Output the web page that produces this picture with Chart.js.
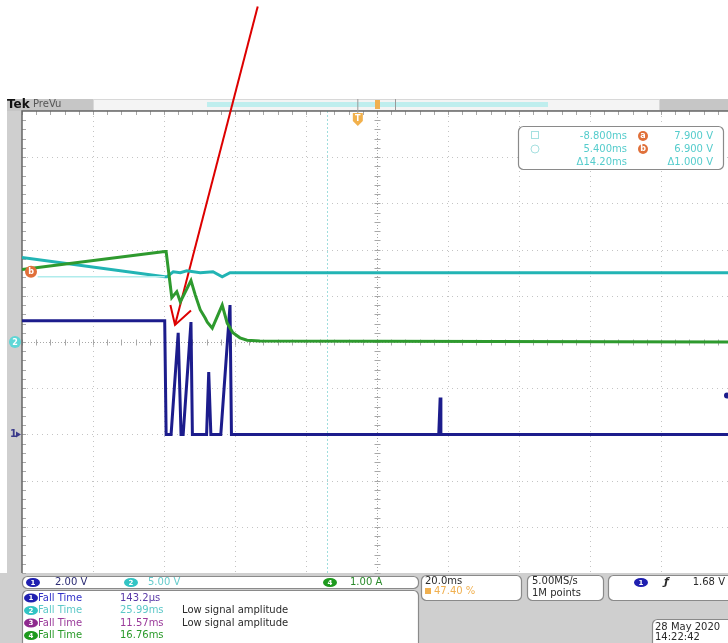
<!DOCTYPE html>
<html lang="en">
<head>
<meta charset="UTF-8">
<title>Tek scope capture</title>
<script src="https://cdn.jsdelivr.net/npm/chart.js@4.4.1/dist/chart.umd.min.js"></script>
<style>
  body { margin: 0; background: #fff; overflow: hidden; }
  canvas { display: block; }
</style>
</head>
<body>
<canvas id="scope" width="728" height="643"></canvas>
<script>
  // x in divisions from the left graticule edge, y in divisions from screen centre
  const blueX = [0, 2.01, 2.03, 2.10, 2.20, 2.24, 2.27, 2.38, 2.40, 2.60, 2.63, 2.66, 2.68, 2.76, 2.80, 2.93, 2.95, 5.87, 5.89, 5.90, 9.95];
  const blueY = [0.46, 0.46, -2.0, -2.0, 0.20, -2.0, -2.0, 0.43, -2.0, -2.0, -0.65, -2.0, -2.0, -2.0, -2.0, 0.80, -2.0, -2.0, -1.20, -2.0, -2.0];

  const cyanX = [0, 2.01, 2.04, 2.13, 2.23, 2.32, 2.51, 2.69, 2.82, 2.93, 3.21, 9.95];
  const cyanY = [1.83, 1.41, 1.41, 1.52, 1.50, 1.54, 1.50, 1.52, 1.41, 1.50, 1.50, 1.50];

  const greenX = [0, 2.01, 2.03, 2.11, 2.18, 2.23, 2.38, 2.44, 2.51, 2.58, 2.61, 2.68, 2.82, 2.89, 2.97, 3.07, 3.17, 3.35, 9.95];
  const greenY = [1.57, 1.96, 1.96, 0.96, 1.09, 0.87, 1.33, 1.02, 0.70, 0.52, 0.43, 0.30, 0.80, 0.41, 0.20, 0.09, 0.04, 0.02, 0.0];

  const refX = [0.22, 2.01];
  const refY = [1.41, 1.41];

  const arrowShaftX = [3.32, 2.155];
  const arrowShaftY = [7.26, 0.37];
  const arrowHeadX = [2.09, 2.155, 2.38];
  const arrowHeadY = [0.80, 0.37, 0.68];

  const cursorA = -8.8;       // ms from trigger
  const trigDiv = 4.73;       // trigger position in divisions
  const msPerDiv = 20;

  const chanLabels = ['2.00 V', '5.00 V', '1.00 A'];
  const measNames = ['Fall Time', 'Fall Time', 'Fall Time', 'Fall Time'];
  const measValues = ['143.2\u03bcs', '25.99ms', '11.57ms', '16.76ms'];
  const measNotes = ['', 'Low signal amplitude', 'Low signal amplitude', ''];
  const cursorRows = [['-8.800ms', '7.900 V'], ['5.400ms', '6.900 V'], ['\u039414.20ms', '\u03941.000 V']];

  const BLUE = '#1c1c8c', CYAN = '#22b4b4', GREEN = '#2e9a2e', PURPLE = '#8e2a8e', ORANGE = '#e0703a';

  function pts(xs, ys) { return xs.map((x, i) => ({x: x, y: ys[i]})); }

  function rrect(ctx, x, y, w, h, r, fill, stroke) {
    ctx.beginPath();
    ctx.roundRect(x, y, w, h, r);
    if (fill) { ctx.fillStyle = fill; ctx.fill(); }
    if (stroke) { ctx.strokeStyle = stroke; ctx.lineWidth = 1.2; ctx.stroke(); }
  }
  function pill(ctx, x, y, color, label) {
    ctx.beginPath();
    ctx.ellipse(x, y, 7, 4.5, 0, 0, Math.PI * 2);
    ctx.fillStyle = color; ctx.fill();
    if (label) {
      ctx.fillStyle = '#fff'; ctx.font = 'bold 7px "DejaVu Sans"';
      ctx.textAlign = 'center'; ctx.textBaseline = 'middle';
      ctx.fillText(label, x, y + 0.5);
    }
  }
  function txt(ctx, s, x, y, color, font, align) {
    ctx.fillStyle = color; ctx.font = font || '10px "DejaVu Sans"';
    ctx.textAlign = align || 'left'; ctx.textBaseline = 'middle';
    ctx.fillText(s, x, y);
  }

  const frame = {
    id: 'frame',
    beforeDraw(chart) {
      const ctx = chart.ctx, a = chart.chartArea;
      const xs = chart.scales.x, ys = chart.scales.y;
      ctx.save();
      ctx.fillStyle = '#fff'; ctx.fillRect(0, 0, chart.width, chart.height);
      // left strip and bottom panel
      ctx.fillStyle = '#cfcfcf';
      ctx.fillRect(7, 99, a.left - 7, a.bottom - 99);
      ctx.fillRect(0, a.bottom, chart.width, chart.height - a.bottom);
      // record bar
      ctx.fillStyle = '#c6c6c6'; ctx.fillRect(7, 99, 86, a.top - 99);
      ctx.fillRect(660, 99, 70, a.top - 99);
      ctx.fillStyle = '#f4f4f4'; ctx.fillRect(93, 99, 567, a.top - 99);
      ctx.fillStyle = '#bfeeee'; ctx.fillRect(207, 102, 341, 5);
      ctx.strokeStyle = '#d8d8d8'; ctx.lineWidth = 1; ctx.strokeRect(93.5, 99.5, 566, a.top - 100);
      txt(ctx, 'Tek', 7, 104.5, '#111', 'bold 12px "DejaVu Sans"');
      txt(ctx, 'PreVu', 33, 104.5, '#555', '10px "DejaVu Sans"');
      // graticule
      ctx.strokeStyle = '#c4c4c4'; ctx.lineWidth = 1; ctx.setLineDash([1, 4]);
      for (let i = 1; i <= 10; i++) {
        if (i === 5) continue;
        const px = Math.round(xs.getPixelForValue(i)) + 0.5;
        ctx.beginPath(); ctx.moveTo(px, a.top); ctx.lineTo(px, a.bottom); ctx.stroke();
      }
      for (let j = -4; j <= 4; j++) {
        if (j === 0) continue;
        const py = Math.round(ys.getPixelForValue(j)) + 0.5;
        ctx.beginPath(); ctx.moveTo(a.left, py); ctx.lineTo(a.right, py); ctx.stroke();
      }
      // cursor a
      const cx = xs.getPixelForValue(trigDiv + cursorA / msPerDiv);
      ctx.strokeStyle = '#9fdede'; ctx.setLineDash([2, 2]);
      ctx.beginPath(); ctx.moveTo(Math.round(cx) + 0.5, a.top); ctx.lineTo(Math.round(cx) + 0.5, a.bottom); ctx.stroke();
      // centre lines with minor ticks
      ctx.strokeStyle = '#a8a8a8'; ctx.setLineDash([1, 2]);
      const mx = Math.round(xs.getPixelForValue(5)) + 0.5, my = Math.round(ys.getPixelForValue(0)) + 0.5;
      ctx.beginPath(); ctx.moveTo(mx, a.top); ctx.lineTo(mx, a.bottom); ctx.stroke();
      ctx.beginPath(); ctx.moveTo(a.left, my); ctx.lineTo(a.right, my); ctx.stroke();
      ctx.setLineDash([]);
      ctx.beginPath();
      for (let v = -5; v <= 5; v += 0.2) {
        const py = Math.round(ys.getPixelForValue(v)) + 0.5;
        ctx.moveTo(mx - 3, py); ctx.lineTo(mx + 3, py);
        ctx.moveTo(a.left, py); ctx.lineTo(a.left + 4, py);
      }
      for (let v = 0; v <= 10; v += 0.2) {
        const px = Math.round(xs.getPixelForValue(v)) + 0.5;
        ctx.moveTo(px, my - 3); ctx.lineTo(px, my + 3);
        ctx.moveTo(px, a.top); ctx.lineTo(px, a.top + 4);
      }
      ctx.stroke();
      // borders
      ctx.strokeStyle = '#666'; ctx.lineWidth = 1.5;
      ctx.beginPath(); ctx.moveTo(a.left, a.bottom); ctx.lineTo(a.left, a.top); ctx.lineTo(a.right, a.top); ctx.stroke();
      // trigger marks on the record bar
      const tx = xs.getPixelForValue(trigDiv);
      ctx.strokeStyle = '#999'; ctx.lineWidth = 1;
      ctx.beginPath(); ctx.moveTo(tx, 99); ctx.lineTo(tx, 113); ctx.moveTo(395.5, 99); ctx.lineTo(395.5, 110); ctx.stroke();
      ctx.fillStyle = '#f0b050'; ctx.fillRect(375, 100, 5, 9);
      ctx.beginPath();
      ctx.moveTo(tx - 5, 113); ctx.lineTo(tx + 5, 113); ctx.lineTo(tx + 5, 121); ctx.lineTo(tx, 126); ctx.lineTo(tx - 5, 121);
      ctx.closePath(); ctx.fillStyle = '#f2b14c'; ctx.fill();
      txt(ctx, 'T', tx, 118.5, '#fff', 'bold 8px "DejaVu Sans"', 'center');
      ctx.restore();
    },
    afterDraw(chart) {
      const ctx = chart.ctx, a = chart.chartArea;
      const xs = chart.scales.x, ys = chart.scales.y;
      ctx.save();
      // channel reference markers
      const g1 = ys.getPixelForValue(-2.0), g2 = ys.getPixelForValue(0);
      txt(ctx, '1', 10, g1, '#3a3a8a', 'bold 10px "DejaVu Sans"');
      ctx.beginPath(); ctx.moveTo(16, g1 - 3); ctx.lineTo(21, g1); ctx.lineTo(16, g1 + 3); ctx.fillStyle = '#3a3a8a'; ctx.fill();
      ctx.beginPath(); ctx.arc(15, g2, 6, 0, Math.PI * 2); ctx.fillStyle = '#5fd6d6'; ctx.fill();
      txt(ctx, '2', 15, g2 + 0.5, '#fff', 'bold 8px "DejaVu Sans"', 'center');
      const bx = 31, by = ys.getPixelForValue(1.52);
      ctx.beginPath(); ctx.arc(bx, by, 6, 0, Math.PI * 2); ctx.fillStyle = ORANGE; ctx.fill();
      txt(ctx, 'b', bx, by, '#fff', 'bold 8px "DejaVu Sans"', 'center');
      // trigger level
      const tl = ys.getPixelForValue(-2.0 + 1.68 / 2);
      ctx.beginPath(); ctx.arc(727, tl, 3, 0, Math.PI * 2); ctx.fillStyle = BLUE; ctx.fill();

      // cursor readout
      rrect(ctx, 518.5, 126.5, 205, 43, 5, '#fff', '#8a8a8a');
      ctx.strokeStyle = '#a6e0e0'; ctx.lineWidth = 1;
      ctx.strokeRect(531.5, 131.5, 7, 7);
      ctx.beginPath(); ctx.arc(535, 149, 4, 0, Math.PI * 2); ctx.stroke();
      const rowY = [136, 149, 162];
      cursorRows.forEach((r, i) => {
        txt(ctx, r[0], 627, rowY[i], '#55cccc', '10px "DejaVu Sans"', 'right');
        txt(ctx, r[1], 713, rowY[i], '#55cccc', '10px "DejaVu Sans"', 'right');
      });
      ['a', 'b'].forEach((s, i) => {
        ctx.beginPath(); ctx.arc(643, rowY[i], 5, 0, Math.PI * 2); ctx.fillStyle = ORANGE; ctx.fill();
        txt(ctx, s, 643, rowY[i], '#fff', 'bold 8px "DejaVu Sans"', 'center');
      });

      // bottom readouts
      rrect(ctx, 22.5, 576.5, 396, 12, 5, '#fff', '#8a8a8a');
      pill(ctx, 33, 582.5, '#1f1fb0', '1');
      txt(ctx, chanLabels[0], 55, 582.5, '#2b2b73');
      pill(ctx, 131, 582.5, '#33c4c4', '2');
      txt(ctx, chanLabels[1], 148, 582.5, '#66cccc');
      pill(ctx, 330, 582.5, '#1e9a1e', '4');
      txt(ctx, chanLabels[2], 350, 582.5, '#2a8a2a');

      rrect(ctx, 22.5, 590.5, 396, 60, 5, '#fff', '#8a8a8a');
      const mColors = ['#3030c8', '#5cc8c8', '#9a3a9a', '#2a9a2a'];
      const vColors = ['#5a3aa8', '#5cc8c8', '#9a3a9a', '#2a9a2a'];
      const pColors = ['#1f1fb0', '#33c4c4', PURPLE, '#1e9a1e'];
      const mY = [598, 610.5, 623, 635.5];
      measNames.forEach((n, i) => {
        pill(ctx, 31, mY[i], pColors[i], String(i + 1));
        txt(ctx, n, 38, mY[i], mColors[i]);
        txt(ctx, measValues[i], 120, mY[i], vColors[i]);
        if (measNotes[i]) txt(ctx, measNotes[i], 182, mY[i], '#2a2a2a');
      });

      rrect(ctx, 421.5, 575.5, 100, 25, 5, '#fff', '#8a8a8a');
      txt(ctx, '20.0ms', 425, 581.5, '#2a2a2a');
      ctx.fillStyle = '#f0b050'; ctx.fillRect(425, 588, 6, 6);
      txt(ctx, '47.40 %', 434, 591.5, '#f0b050');
      rrect(ctx, 527.5, 575.5, 76, 25, 5, '#fff', '#8a8a8a');
      txt(ctx, '5.00MS/s', 532, 581.5, '#2a2a2a');
      txt(ctx, '1M points', 532, 593, '#2a2a2a');
      rrect(ctx, 608.5, 575.5, 130, 25, 5, '#fff', '#8a8a8a');
      pill(ctx, 641, 582.5, '#1f1fb0', '1');
      txt(ctx, '\u0192', 664, 582.5, '#2a2a2a', 'italic bold 11px "DejaVu Sans"');
      txt(ctx, '1.68 V', 725, 582.5, '#2a2a2a', '10px "DejaVu Sans"', 'right');
      rrect(ctx, 652.5, 619.5, 90, 30, 5, '#fff', '#8a8a8a');
      txt(ctx, '28 May 2020', 655, 627, '#2a2a2a');
      txt(ctx, '14:22:42', 655, 637.5, '#2a2a2a');
      ctx.restore();
    }
  };

  new Chart(document.getElementById('scope'), {
    type: 'line',
    data: {
      datasets: [
        {data: pts(refX, refY), borderColor: '#b0ecec', borderWidth: 1.5},
        {data: pts(greenX, greenY), borderColor: GREEN, borderWidth: 3},
        {data: pts(cyanX, cyanY), borderColor: CYAN, borderWidth: 3},
        {data: pts(blueX, blueY), borderColor: BLUE, borderWidth: 3},
        {data: pts(arrowShaftX, arrowShaftY), borderColor: '#dd0000', borderWidth: 2, clip: false},
        {data: pts(arrowHeadX, arrowHeadY), borderColor: '#dd0000', borderWidth: 2, clip: false}
      ]
    },
    options: {
      responsive: false,
      animation: false,
      layout: {padding: {left: 22, top: 111, right: 0, bottom: 70}},
      scales: {
        x: {type: 'linear', display: false, min: 0, max: 9.944},
        y: {type: 'linear', display: false, min: -5, max: 5}
      },
      elements: {point: {radius: 0}, line: {tension: 0, borderJoinStyle: 'miter'}},
      plugins: {legend: {display: false}, tooltip: {enabled: false}}
    },
    plugins: [frame]
  });
</script>
</body>
</html>
